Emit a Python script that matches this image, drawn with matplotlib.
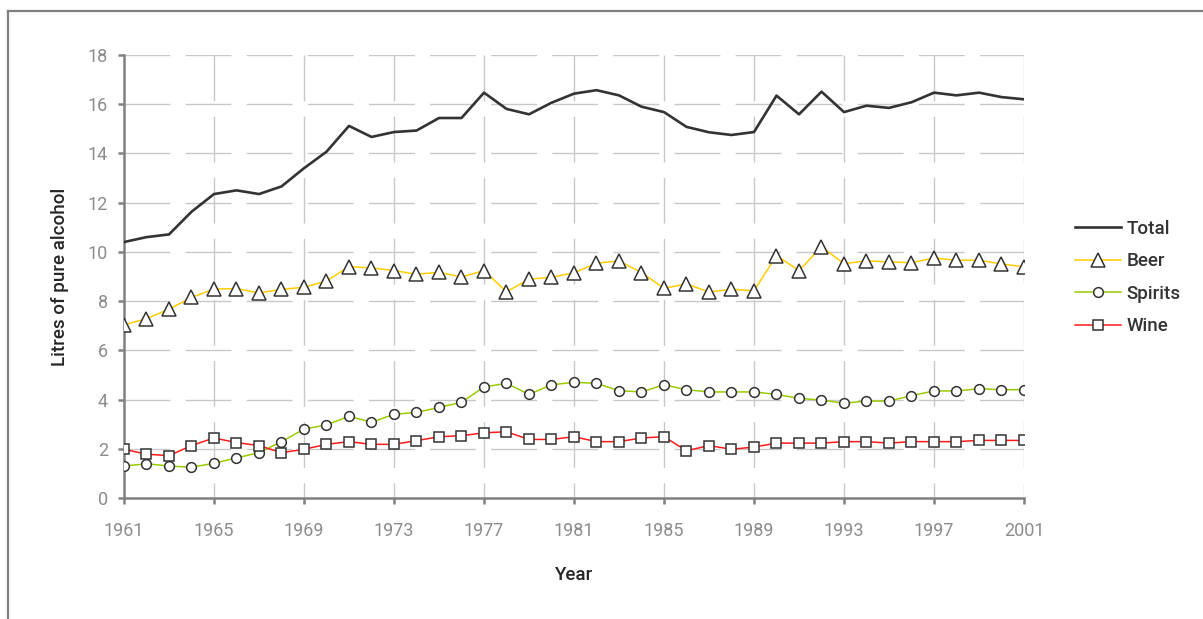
import matplotlib
matplotlib.use("Agg")
import matplotlib.pyplot as plt
from matplotlib.lines import Line2D

years = list(range(1961, 2002))
total = [10.40, 10.60, 10.71, 11.63, 12.35, 12.50, 12.35, 12.66, 13.40, 14.07,
         15.12, 14.67, 14.87, 14.93, 15.44, 15.44, 16.47, 15.81, 15.59, 16.06,
         16.43, 16.57, 16.36, 15.90, 15.68, 15.08, 14.86, 14.75, 14.87, 16.35,
         15.59, 16.51, 15.68, 15.94, 15.85, 16.08, 16.47, 16.36, 16.47, 16.29,
         16.20]
beer = [7.03, 7.29, 7.67, 8.15, 8.49, 8.51, 8.33, 8.48, 8.56, 8.82,
        9.40, 9.35, 9.24, 9.09, 9.17, 8.98, 9.24, 8.38, 8.89, 8.97,
        9.15, 9.54, 9.63, 9.16, 8.52, 8.70, 8.37, 8.48, 8.42, 9.85,
        9.24, 10.21, 9.52, 9.64, 9.59, 9.56, 9.75, 9.66, 9.66, 9.51,
        9.39]
spirits = [1.30, 1.39, 1.30, 1.25, 1.41, 1.63, 1.84, 2.29, 2.80, 2.97,
           3.32, 3.08, 3.40, 3.48, 3.68, 3.89, 4.51, 4.66, 4.21, 4.60,
           4.70, 4.66, 4.36, 4.31, 4.60, 4.40, 4.31, 4.31, 4.31, 4.21,
           4.05, 3.98, 3.85, 3.94, 3.94, 4.16, 4.35, 4.35, 4.44, 4.40,
           4.40]
wine = [1.98, 1.78, 1.72, 2.13, 2.44, 2.25, 2.13, 1.84, 1.98, 2.18,
        2.29, 2.18, 2.18, 2.33, 2.49, 2.53, 2.65, 2.69, 2.38, 2.38,
        2.49, 2.29, 2.29, 2.44, 2.49, 1.92, 2.13, 1.98, 2.07, 2.23,
        2.23, 2.23, 2.29, 2.29, 2.23, 2.29, 2.29, 2.29, 2.34, 2.34,
        2.34]
xticks = list(range(1961, 2002, 4))
yticks = list(range(0, 19, 2))
series_names = ["Total", "Beer", "Spirits", "Wine"]

plt.rcParams['font.family'] = ['Roboto', 'DejaVu Sans']

W, H = 1203, 619
fig = plt.figure(figsize=(W / 100, H / 100), dpi=100)
ax = fig.add_axes([124 / W, 1 - 498 / H, 900 / W, 443 / H])

ax.set_xlim(1961, 2001)
ax.set_ylim(0, 18)

grid_kw = dict(color='#c8c8c8', lw=1.0, dashes=(33, 11), zorder=1)
for yv in yticks[1:]:
    ax.axhline(yv, **grid_kw)
for xv in xticks[1:]:
    ax.axvline(xv, ymin=1, ymax=0, **grid_kw)

edge = '#333333'
ax.plot(years, total, color='#333333', lw=1.9, zorder=5, label=series_names[0])
ax.plot(years, beer, color='#ffcc00', lw=1.1, marker='^', ms=9.5, mfc='white',
        mec=edge, mew=1.1, zorder=4, label=series_names[1])
ax.plot(years, spirits, color='#99cc00', lw=1.1, marker='o', ms=7, mfc='white',
        mec=edge, mew=1.1, zorder=4, label=series_names[2])
ax.plot(years, wine, color='#ff1a1a', lw=1.1, marker='s', ms=6.8, mfc='white',
        mec=edge, mew=1.1, zorder=4, label=series_names[3])

for s in ['top', 'right']:
    ax.spines[s].set_visible(False)
for s in ['left', 'bottom']:
    ax.spines[s].set_color('#808080')
    ax.spines[s].set_linewidth(1.8)

ax.set_xticks(xticks)
ax.set_yticks(yticks)
ax.tick_params(axis='both', colors='#808080', width=1.8, length=4.5,
               labelcolor='#8c8c8c', labelsize=13)
ax.tick_params(axis='y', pad=7)
ax.tick_params(axis='x', pad=13)

lab_kw = dict(fontsize=13.5, color='#262626', fontweight='medium')
ax.set_xlabel('Year', labelpad=18.5, **lab_kw)
ax.set_ylabel('Litres of pure alcohol', labelpad=13.5, **lab_kw)

leg = ax.legend(loc='upper left', bbox_to_anchor=(1075 / W, 1 - 220 / H),
                bbox_transform=fig.transFigure, frameon=False,
                prop=dict(size=13.5, weight='medium'),
                handlelength=2.45, handletextpad=0.3, labelspacing=0.77,
                borderpad=0, borderaxespad=0)
for t in leg.get_texts():
    t.set_color('#333333')

# outer frame (partially visible)
fig.add_artist(Line2D([8 / W, 8 / W], [0, 1 - 11 / H], transform=fig.transFigure,
                      color='#808080', lw=1.6))
fig.add_artist(Line2D([8 / W, 1], [1 - 11 / H, 1 - 11 / H], transform=fig.transFigure,
                      color='#808080', lw=1.6))

fig.savefig('out.png', dpi=100)
